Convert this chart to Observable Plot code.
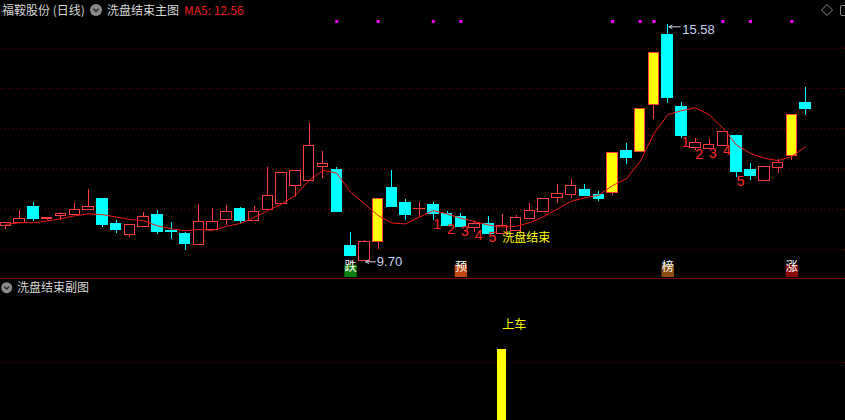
<!DOCTYPE html>
<html><head><meta charset="utf-8">
<script src="https://cdn.jsdelivr.net/npm/d3@7"></script>
<script src="https://cdn.jsdelivr.net/npm/@observablehq/plot@0.6"></script>
<style>
html,body{margin:0;padding:0;background:#000;}
#wrap{position:relative;width:845px;height:420px;overflow:hidden;background:#000;font-family:"Noto Sans CJK SC","Noto Sans",sans-serif;}
.lbl{position:absolute;font-size:12px;line-height:20px;white-space:nowrap;}
#top,#bot{position:absolute;left:0;}
#top{top:0px}
#bot{top:279px}
#sep{position:absolute;left:0;top:278px;width:845px;height:1px;background:#6e0000}
</style></head>
<body><div id="wrap">
<div id="top"></div><div id="sep"></div><div id="bot"></div>
<div class="lbl" style="left:2px;top:0px;color:#d6d6d6">福鞍股份 (日线)</div>
<svg style="position:absolute;left:90px;top:3.5px" width="12" height="12"><circle cx="6" cy="6" r="6" fill="#8a8a8a"/><path d="M3.4 4.8 L6 7.4 L8.6 4.8" stroke="#2a2a2a" stroke-width="1.5" fill="none"/></svg>
<div class="lbl" style="left:107px;top:0px;color:#d6d6d6">洗盘结束主图</div>
<div class="lbl" id="maLbl" style="left:184px;top:0px;color:#e81c1c"></div>
<svg style="position:absolute;left:818px;top:2px" width="27" height="16"><path d="M9 2.5 L14.5 8 L9 13.5 L3.5 8 Z" stroke="#8c8c8c" stroke-width="1" fill="none"/><rect x="22.5" y="3.5" width="10" height="10" rx="1.5" stroke="#8c8c8c" fill="none"/></svg>
<svg style="position:absolute;left:1px;top:281.5px" width="12" height="12"><circle cx="5.7" cy="5.7" r="5.5" fill="#8a8a8a"/><path d="M3.2 4.6 L5.7 7.1 L8.2 4.6" stroke="#2a2a2a" stroke-width="1.4" fill="none"/></svg>
<div class="lbl" style="left:17px;top:277px;color:#d6d6d6">洗盘结束副图</div>
</div>
<script>
// ---- data (index = trading day) ----
const opens  = [10.59,10.67,11.05,10.75,10.84,10.87,10.98,11.27,10.63,10.37,10.57,10.85,10.46,10.40,10.12,10.50,10.74,11.00,10.71,10.98,11.14,11.59,11.71,12.06,11.99,10.10,9.73,10.19,11.52,11.15,11.00,11.10,10.89,10.81,10.55,10.63,10.39,10.46,10.76,10.94,11.28,11.35,11.47,11.35,11.40,12.46,12.42,13.58,15.34,13.55,12.52,12.49,12.57,12.81,11.97,11.71,12.03,12.32,13.63];
const highs  = [10.68,10.97,11.17,10.80,10.93,11.15,11.49,11.28,10.72,10.62,10.92,10.97,10.67,10.43,11.12,11.02,11.10,11.05,11.07,12.04,11.92,11.97,13.13,12.44,12.03,10.43,10.22,11.25,11.97,11.25,11.18,11.17,10.95,10.91,10.71,10.82,10.87,10.85,11.14,11.27,11.62,11.74,11.62,11.44,12.41,12.64,13.50,14.87,15.58,13.65,12.76,12.74,12.94,12.82,12.15,12.06,12.23,13.35,14.02];
const lows   = [10.49,10.66,10.70,10.72,10.72,10.86,10.97,10.56,10.39,10.31,10.57,10.38,10.25,9.98,10.12,10.50,10.60,10.66,10.70,10.97,11.11,11.29,11.70,11.77,10.92,9.83,9.70,10.01,11.05,10.72,10.81,10.72,10.59,10.55,10.43,10.38,10.38,10.45,10.75,10.93,11.15,11.26,11.31,11.20,11.35,12.12,12.41,13.24,13.62,12.75,12.46,12.48,12.56,11.78,11.72,11.71,11.90,12.21,13.33];
const closes = [10.67,10.77,10.76,10.79,10.89,10.99,11.06,10.61,10.48,10.62,10.82,10.43,10.44,10.14,10.69,10.69,10.94,10.72,10.94,11.34,11.91,11.96,12.58,12.13,10.93,9.84,10.20,11.25,11.05,10.85,11.01,10.89,10.60,10.56,10.64,10.39,10.58,10.79,10.95,11.26,11.37,11.59,11.32,11.27,12.41,12.27,13.50,14.87,13.76,12.83,12.65,12.61,12.93,11.92,11.82,12.06,12.14,13.35,13.49];
const ma5    = [10.63,10.67,10.67,10.71,10.77,10.84,10.89,10.87,10.81,10.75,10.72,10.59,10.52,10.47,10.50,10.48,10.58,10.65,10.80,10.97,11.13,11.35,11.72,11.97,11.90,11.43,11.14,10.85,10.66,10.64,10.81,10.97,10.89,10.78,10.70,10.61,10.56,10.58,10.67,10.82,11.01,11.20,11.29,11.35,11.59,11.76,12.19,12.88,13.35,13.45,13.52,13.35,13.02,12.59,12.39,12.27,12.21,12.31,12.56];
const yellowIdx = [27,44,46,47,57];
const numIdx  = [31,32,33,34,35,49,50,51,52,53];
const numText = ["1","2","3","4","5","1","2","3","4","5"];
const washIdx = [36];
const washText = ["洗盘结束"];
const dotIdx = [24,27,31,33,44,46,47,52,54,57];
const badgeIdx = [25,33,48,57];
const badgeText = ["跌","预","榜","涨"];
const badgeColor = ["#0d7f0d","#c24a12","#8a4d12","#8c0a0a"];
const lowMarkIdx = [26];
const highMarkIdx = [48];
const gridPrices = [10,11,12,13,14,15];
const signalIdx = [36];
const signalVal = [1.155];
const signalText = ["上车"];
const subGrid = [1];

const RED = "#ff3c3c", CYAN = "#00ffff", YEL = "#ffff00", LBL = "#c8d4ec";
const XD = [-0.384, 60.89];
const candles = opens.map((o,i)=>({i, open:o, high:highs[i], low:lows[i], close:closes[i],
  kind: yellowIdx.includes(i) ? "y" : (closes[i] >= o ? "up" : "down")}));

document.getElementById("maLbl").textContent = "MA5: " + ma5[ma5.length-1].toFixed(2);

const topChart = Plot.plot({
  width: 845, height: 278, margin: 0,
  style: {background: "#000", overflow: "visible"},
  x: {domain: XD, axis: null},
  y: {domain: [9.285, 16.184], axis: null},
  color: {type: "identity"},
  marks: [
    Plot.ruleY(gridPrices, {stroke: "#7a0000", strokeDasharray: "1,3"}),
    Plot.ruleX(candles, {x: "i", y1: "low", y2: "high", stroke: d => d.kind === "down" ? CYAN : RED, shapeRendering: "crispEdges"}),
    Plot.rect(candles, {x1: d => d.i - 0.38, x2: d => d.i + 0.38, y1: "open", y2: "close",
      fill: d => d.kind === "down" ? CYAN : d.kind === "y" ? YEL : "#000",
      stroke: d => d.kind === "down" ? CYAN : RED, shapeRendering: "crispEdges"}),
    Plot.line(ma5.map((v,i)=>({i,v})), {x: "i", y: "v", stroke: "#f01818", strokeWidth: 1}),
    Plot.text(numIdx, {x: d => d, y: d => lows[d], text: (d,k) => numText[k], fill: "#ff2828",
      fontSize: 14, fontFamily: "Liberation Sans, Arial, sans-serif", textAnchor: "start", lineAnchor: "middle", dy: 3.5}),
    Plot.text(washIdx, {x: d => d, y: d => lows[d], text: (d,k) => washText[k], fill: YEL,
      fontSize: 12, fontFamily: "Noto Sans CJK SC", textAnchor: "start", lineAnchor: "top", dy: -1}),
    Plot.arrow(lowMarkIdx, {x1: d => d + 0.8, x2: d => d + 0.1, y1: d => lows[d], y2: d => lows[d],
      stroke: LBL, strokeWidth: 1, headLength: 5}),
    Plot.text(lowMarkIdx, {x: d => d, y: d => lows[d], text: d => lows[d].toFixed(2), fill: LBL,
      fontSize: 13, fontFamily: "Liberation Sans, Arial, sans-serif", textAnchor: "start", dx: 12.5}),
    Plot.arrow(highMarkIdx, {x1: d => d + 0.9, x2: d => d + 0.1, y1: d => highs[d], y2: d => highs[d],
      stroke: LBL, strokeWidth: 1, headLength: 5, dy: 2}),
    Plot.text(highMarkIdx, {x: d => d, y: d => highs[d], text: d => highs[d].toFixed(2), fill: LBL,
      fontSize: 13, fontFamily: "Liberation Sans, Arial, sans-serif", textAnchor: "start", dx: 14.5, dy: 5}),
    Plot.dot(dotIdx, {x: d => d, frameAnchor: "top", dy: 21, symbol: "square", r: 1.7, fill: "#ff00ff"}),
    Plot.dot(badgeIdx, {x: d => d, frameAnchor: "bottom", dy: -7.7, symbol: "square", r: 7, fill: (d,k) => badgeColor[k]}),
    Plot.text(badgeIdx, {x: d => d, frameAnchor: "bottom", dy: -7.5, text: (d,k) => badgeText[k], fill: "#ffffff",
      fontSize: 12, fontFamily: "Noto Sans CJK SC"})
  ]
});
document.getElementById("top").appendChild(topChart);

const botChart = Plot.plot({
  width: 845, height: 141, margin: 0,
  style: {background: "#000", overflow: "visible"},
  x: {domain: XD, axis: null},
  y: {domain: [0, 2], range: [167, -1], axis: null},
  marks: [
    Plot.ruleY(subGrid, {stroke: "#7a0000", strokeDasharray: "1,3"}),
    Plot.rect(signalIdx, {x1: d => d - 0.33, x2: d => d + 0.33, y1: 0, y2: (d,k) => signalVal[k], fill: YEL, shapeRendering: "crispEdges"}),
    Plot.text(signalIdx, {x: d => d, y: (d,k) => signalVal[k], text: (d,k) => signalText[k], fill: YEL,
      fontSize: 12, fontFamily: "Noto Sans CJK SC", textAnchor: "start", dy: -24.5})
  ]
});
document.getElementById("bot").appendChild(botChart);
</script>
</body></html>
